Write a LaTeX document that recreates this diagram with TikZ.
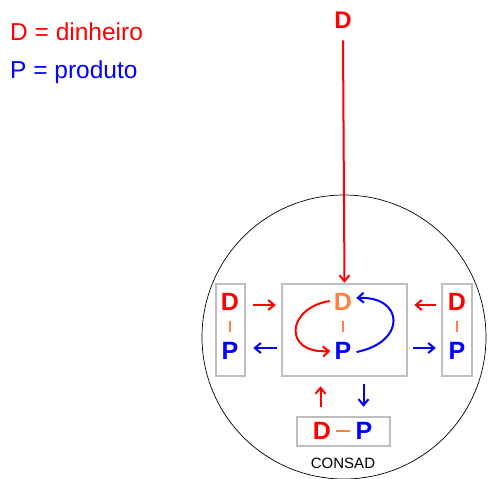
\documentclass[tikz,border=0pt]{standalone}
\usepackage{fontspec}
\setmainfont{Liberation Sans}
\usetikzlibrary{arrows.meta}
\definecolor{myred}{RGB}{255,0,0}
\definecolor{myblue}{RGB}{0,0,255}
\definecolor{myorange}{RGB}{255,128,64}
\definecolor{mygray}{RGB}{190,190,190}
\tikzset{
  box/.style={draw=mygray, line width=2.5pt, inner sep=0pt},
  big/.style={font=\fontsize{25}{25}\selectfont\bfseries, inner sep=0pt},
  sep/.style={draw=myorange, line width=2pt},
  redarr/.style={draw=myred, line width=2pt, -{Straight Barb[length=6pt,width=10pt,line width=2pt]}},
  bluearr/.style={draw=myblue, line width=2pt, -{Straight Barb[length=6pt,width=10pt,line width=2pt]}},
  legend/.style={font=\fontsize{24.5}{24.5}\selectfont, anchor=west, inner sep=0pt}
}
\begin{document}
\begin{tikzpicture}[x=1pt,y=-1pt]
\useasboundingbox (0,0) rectangle (491,479);
% legend
\node[legend, text=myred] (legD) at (10,32) {D = dinheiro};
\node[legend, text=myblue] (legP) at (10,72) {P = produto};
% circle
\node[circle, draw, line width=0.7pt, minimum size=284pt, inner sep=0pt] (circ) at (344,337) {};
% boxes
\node[box, minimum width=125pt, minimum height=92pt] (cbox) at (344.5,330) {};
\node[box, minimum width=29pt, minimum height=92pt] (lbox) at (230.5,330) {};
\node[box, minimum width=30pt, minimum height=92pt] (rbox) at (457,330) {};
\node[box, minimum width=93pt, minimum height=29pt] (bbox) at (343.5,431.5) {};
\node[font=\fontsize{15}{15}\selectfont, inner sep=0pt] (consad) at (343,463) {CONSAD};
% top D
\node[big, text=myred, font=\fontsize{24}{24}\selectfont\bfseries] (topD) at (343,20) {D};
% center letters
\node[big, text=myorange] (cD) at (343,302) {D};
\node[big, text=myblue] (cP) at (343,351) {P};
\draw[sep] ([yshift=-10pt]cD.south) -- ([yshift=10pt]cP.north);
% left letters
\node[big, text=myred] (lD) at (230,302) {D};
\node[big, text=myblue] (lP) at (230,351) {P};
\draw[sep] ([yshift=-10pt]lD.south) -- ([yshift=10pt]lP.north);
% right letters
\node[big, text=myred] (rD) at (457,302) {D};
\node[big, text=myblue] (rP) at (457,351) {P};
\draw[sep] ([yshift=-10pt]rD.south) -- ([yshift=10pt]rP.north);
% bottom letters
\node[big, text=myred] (bD) at (322,431) {D};
\node[big, text=myblue] (bP) at (364,431) {P};
\draw[sep] ([xshift=5pt]bD.east) -- ([xshift=-5pt]bP.west);
% top arrow
\draw[redarr] ([yshift=-12pt]topD.south) -- (cbox.north);
% cycles in centre
\draw[redarr] ([shift={(-4,-1)}]cD.west) .. controls (286,308) and (283,354) .. ([shift={(-4,0)}]cP.west);
\draw[bluearr] ([shift={(5,1)}]cP.east) .. controls (407,342) and (404,296) .. ([shift={(4,-4)}]cD.east);
% left box arrows
\draw[redarr] ([shift={(7,-25)}]lbox.east) -- ([shift={(-5,-25)}]cbox.west);
\draw[bluearr] ([shift={(-4,18)}]cbox.west) -- ([shift={(7,18)}]lbox.east);
% right box arrows
\draw[redarr] ([shift={(-5,-25)}]rbox.west) -- ([shift={(6,-25)}]cbox.east);
\draw[bluearr] ([shift={(5,18)}]cbox.east) -- ([shift={(-5,18)}]rbox.west);
% bottom box arrows
\draw[redarr] ([shift={(-23,-9)}]bbox.north) -- ([shift={(-24,9)}]cbox.south);
\draw[bluearr] ([shift={(19,7)}]cbox.south) -- ([shift={(20,-9)}]bbox.north);
\end{tikzpicture}
\end{document}
